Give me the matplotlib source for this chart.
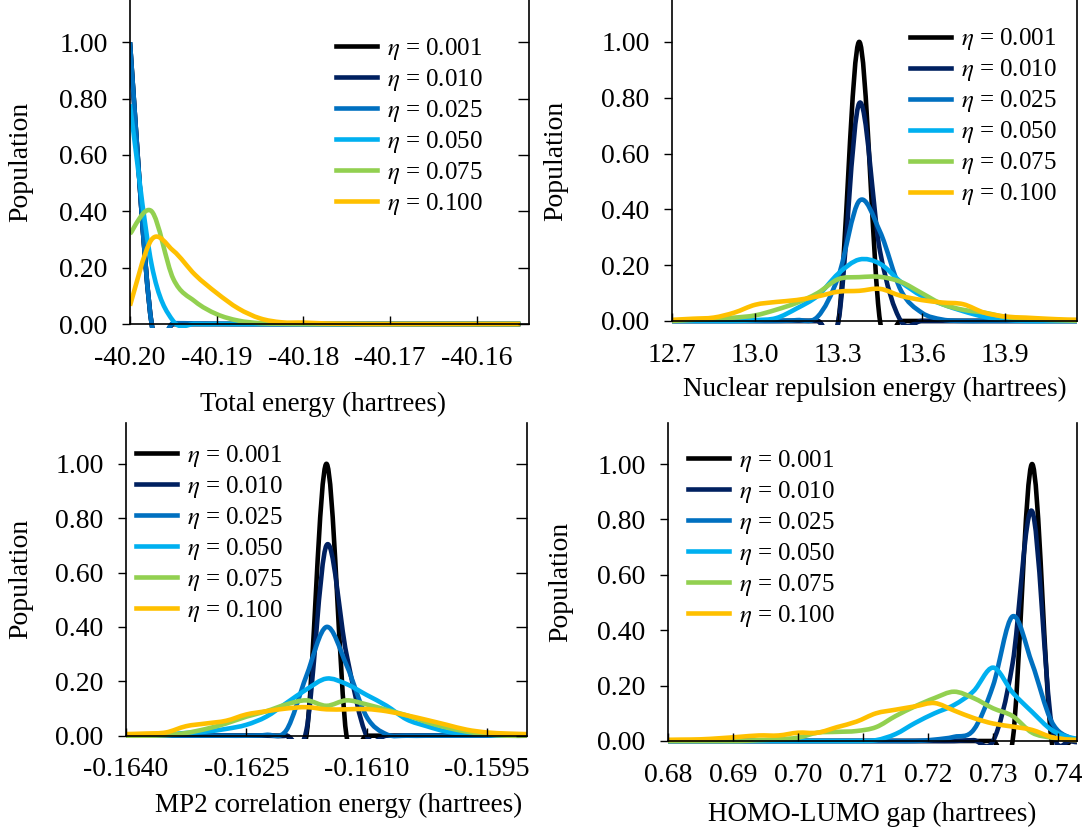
import numpy as np
import matplotlib
matplotlib.use('Agg')
import matplotlib.pyplot as plt
from matplotlib.path import Path
from matplotlib.patches import PathPatch, Rectangle
from matplotlib.lines import Line2D

plt.rcParams['font.family'] = ['Liberation Serif', 'DejaVu Serif']
plt.rcParams['mathtext.fontset'] = 'stix'
plt.rcParams['axes.unicode_minus'] = False
plt.rcParams['font.size'] = 20

etas = ['0.001', '0.010', '0.025', '0.050', '0.075', '0.100']
colors = ['#000000', '#002060', '#0070C0', '#00B0F0', '#92D050', '#FFC000']

# total energy (hartrees), bin centres every 0.0025
te_x = -40.2 + 0.0025 * np.arange(19)
te_001 = [1.0] + [0.0] * 18
te_010 = [1.0] + [0.0] * 18
te_025 = [1.0, 0.0, 0.003, 0.002, 0.001] + [0.0] * 14
te_050 = [0.78, 0.21, 0.01] + [0.0] * 16
te_075 = [0.32, 0.40, 0.16, 0.08, 0.035, 0.012, 0.003, 0.001] + [0.0] * 11
te_100 = [0.065, 0.30, 0.26, 0.175, 0.11, 0.055, 0.02, 0.006, 0.005, 0.002,
          0.001] + [0.0] * 8

# nuclear repulsion energy, bins every 0.075
nr_x = 12.7 + 0.075 * np.arange(21)
nr_001 = [0.0] * 9 + [1.0] + [0.0] * 11
nr_010 = [0.0] * 9 + [0.78, 0.25] + [0.0] * 10
nr_025 = [0.0] * 6 + [0.003, 0.015, 0.16, 0.43, 0.32, 0.11, 0.03, 0.005] + [0.0] * 7
nr_050 = [0.0] * 4 + [0.003, 0.01, 0.045, 0.09, 0.17, 0.22, 0.205, 0.14, 0.09,
                      0.06, 0.035, 0.015, 0.005] + [0.0] * 4
nr_075 = [0.0, 0.004, 0.008, 0.012, 0.02, 0.04, 0.065, 0.10, 0.15, 0.157, 0.158,
          0.14, 0.10, 0.06, 0.04, 0.03, 0.015, 0.008, 0.004, 0.002, 0.0]
nr_100 = [0.004, 0.008, 0.012, 0.03, 0.058, 0.068, 0.075, 0.088, 0.105, 0.108,
          0.115, 0.09, 0.075, 0.066, 0.06, 0.03, 0.016, 0.012, 0.008, 0.005, 0.004]

# MP2 correlation energy, bins every 0.00025
mp_x = -0.164 + 0.00025 * np.arange(21)
mp_001 = [0.0] * 10 + [1.0] + [0.0] * 10
mp_010 = [0.0] * 9 + [0.02, 0.70, 0.30] + [0.0] * 9
mp_025 = [0.0] * 7 + [0.003, 0.02, 0.22, 0.40, 0.26, 0.07, 0.005] + [0.0] * 7
mp_050 = [0.0, 0.003, 0.005, 0.01, 0.015, 0.025, 0.04, 0.07, 0.12, 0.17, 0.21,
          0.19, 0.15, 0.11, 0.06, 0.035, 0.015, 0.008, 0.003, 0.0, 0.0]
mp_075 = [0.0, 0.0, 0.002, 0.01, 0.025, 0.045, 0.07, 0.09, 0.115, 0.13, 0.11,
          0.13, 0.115, 0.095, 0.075, 0.05, 0.03, 0.015, 0.005, 0.0, 0.0]
mp_100 = [0.006, 0.008, 0.012, 0.035, 0.045, 0.055, 0.078, 0.09, 0.1, 0.105,
          0.097, 0.097, 0.098, 0.09, 0.075, 0.058, 0.04, 0.022, 0.012, 0.008, 0.006]

# HOMO-LUMO gap, bins every 0.003
hl_x = 0.679 + 0.003 * np.arange(23)
hl_001 = [0.0] * 19 + [1.0] + [0.0] * 3
hl_010 = [0.0] * 16 + [0.003, 0.0, 0.28, 0.83, 0.06, 0.0, 0.0]
hl_025 = [0.0] * 14 + [0.005, 0.015, 0.04, 0.2, 0.45, 0.28, 0.07, 0.01, 0.0]
hl_050 = [0.0] * 11 + [0.003, 0.025, 0.065, 0.1, 0.13, 0.18, 0.265, 0.175,
                       0.105, 0.04, 0.012, 0.005]
hl_075 = [0.0, 0.0, 0.0, 0.0, 0.0, 0.003, 0.006, 0.012, 0.03, 0.033, 0.036, 0.05,
          0.09, 0.125, 0.155, 0.178, 0.155, 0.118, 0.09, 0.03, 0.012, 0.005, 0.003]
hl_100 = [0.004, 0.005, 0.006, 0.01, 0.015, 0.02, 0.02, 0.03, 0.03, 0.05, 0.07,
          0.1, 0.113, 0.125, 0.137, 0.11, 0.083, 0.063, 0.052, 0.04, 0.014,
          0.004, 0.003]


def smooth_path(x, y):
    # catmull-rom through the points, written as cubic bezier segments
    pts = np.column_stack([x, y]).astype(float)
    p = np.vstack([pts[0], pts, pts[-1]])
    verts = [pts[0]]
    codes = [Path.MOVETO]
    for i in range(1, len(p) - 2):
        c1 = p[i] + (p[i + 1] - p[i - 1]) / 6.0
        c2 = p[i + 1] - (p[i + 2] - p[i]) / 6.0
        verts += [c1, c2, p[i + 1]]
        codes += [Path.CURVE4] * 3
    return Path(verts, codes)


def panel(fig, rect, x, series, xlim, xticks, xfmt, xlabel, xlab_pos,
          ylab_x, leg_pos, xpad, right_ticks):
    ax = fig.add_axes(rect)
    for ys, c in zip(series, colors):
        patch = PathPatch(smooth_path(x, ys), fill=False, edgecolor=c, lw=3.3,
                          joinstyle='round', capstyle='butt')
        ax.add_patch(patch)
        # let the overshoot poke just under the axis line
        patch.set_clip_path(Rectangle((0, -0.012), 1, 1.012, transform=ax.transAxes))
    ax.set_xlim(*xlim)
    ax.set_ylim(0, 1.15)
    ax.set_xticks(xticks)
    ax.set_xticklabels([xfmt % v for v in xticks])
    ax.set_yticks(np.arange(0, 1.01, 0.2))
    ax.set_yticklabels(['%.2f' % v for v in np.arange(0, 1.01, 0.2)])
    ax.spines['top'].set_visible(False)
    for s in ['left', 'bottom', 'right']:
        ax.spines[s].set_linewidth(1.2)
    ax.tick_params(axis='x', direction='in', length=6, width=1, pad=xpad)
    ax.tick_params(axis='y', direction='out', length=6, width=1, pad=10)
    if right_ticks:
        ax.tick_params(axis='y', which='major', right=True, labelright=False)
        for t in ax.yaxis.get_major_ticks():
            t.tick2line.set_marker(matplotlib.lines.TICKLEFT)
            t.tick2line.set_markersize(8)
    ax.set_xlabel(xlabel, fontsize=19.5)
    ax.xaxis.set_label_coords(xlab_pos[0], xlab_pos[1])
    ax.set_ylabel('Population')
    ax.yaxis.set_label_coords(ylab_x, 0.5)
    handles = [Line2D([], [], color=c, lw=3.3) for c in colors]
    labels = [r'$\eta$ = ' + e for e in etas]
    ax.legend(handles, labels, loc='upper left', bbox_to_anchor=leg_pos,
              frameon=False, borderpad=0, borderaxespad=0, handlelength=1.64,
              handletextpad=0.4, labelspacing=0.2, fontsize=18)
    return ax


fig = plt.figure(figsize=(10.84, 8.27), dpi=100)

panel(fig, [0.1199, 0.6082, 0.3681, 0.3918], te_x,
      [te_001, te_010, te_025, te_050, te_075, te_100],
      (-40.2, -40.154), [-40.20, -40.19, -40.18, -40.17, -40.16], '%.2f',
      'Total energy (hartrees)', (0.484, -0.21), -0.243, (0.516, 0.89), 16, True)

panel(fig, [0.6199, 0.6119, 0.3736, 0.3881], nr_x,
      [nr_001, nr_010, nr_025, nr_050, nr_075, nr_100],
      (12.7, 14.16), [12.7, 13.0, 13.3, 13.6, 13.9], '%.1f',
      'Nuclear repulsion energy (hartrees)', (0.5, -0.174), -0.257,
      (0.588, 0.918), 16, False)

panel(fig, [0.1162, 0.1104, 0.3699, 0.3781], mp_x,
      [mp_001, mp_010, mp_025, mp_050, mp_075, mp_100],
      (-0.164, -0.159), [-0.1640, -0.1625, -0.1610, -0.1595], '%.4f',
      'MP2 correlation energy (hartrees)', (0.53, -0.183), -0.232,
      (0.025, 0.936), 15, True)

panel(fig, [0.6162, 0.1040, 0.3773, 0.3851], hl_x,
      [hl_001, hl_010, hl_025, hl_050, hl_075, hl_100],
      (0.68, 0.7429), [0.68, 0.69, 0.70, 0.71, 0.72, 0.73, 0.74], '%.2f',
      'HOMO-LUMO gap (hartrees)', (0.5, -0.19), -0.232,
      (0.049, 0.92), 16, False)

fig.savefig('out.png', dpi=100)
